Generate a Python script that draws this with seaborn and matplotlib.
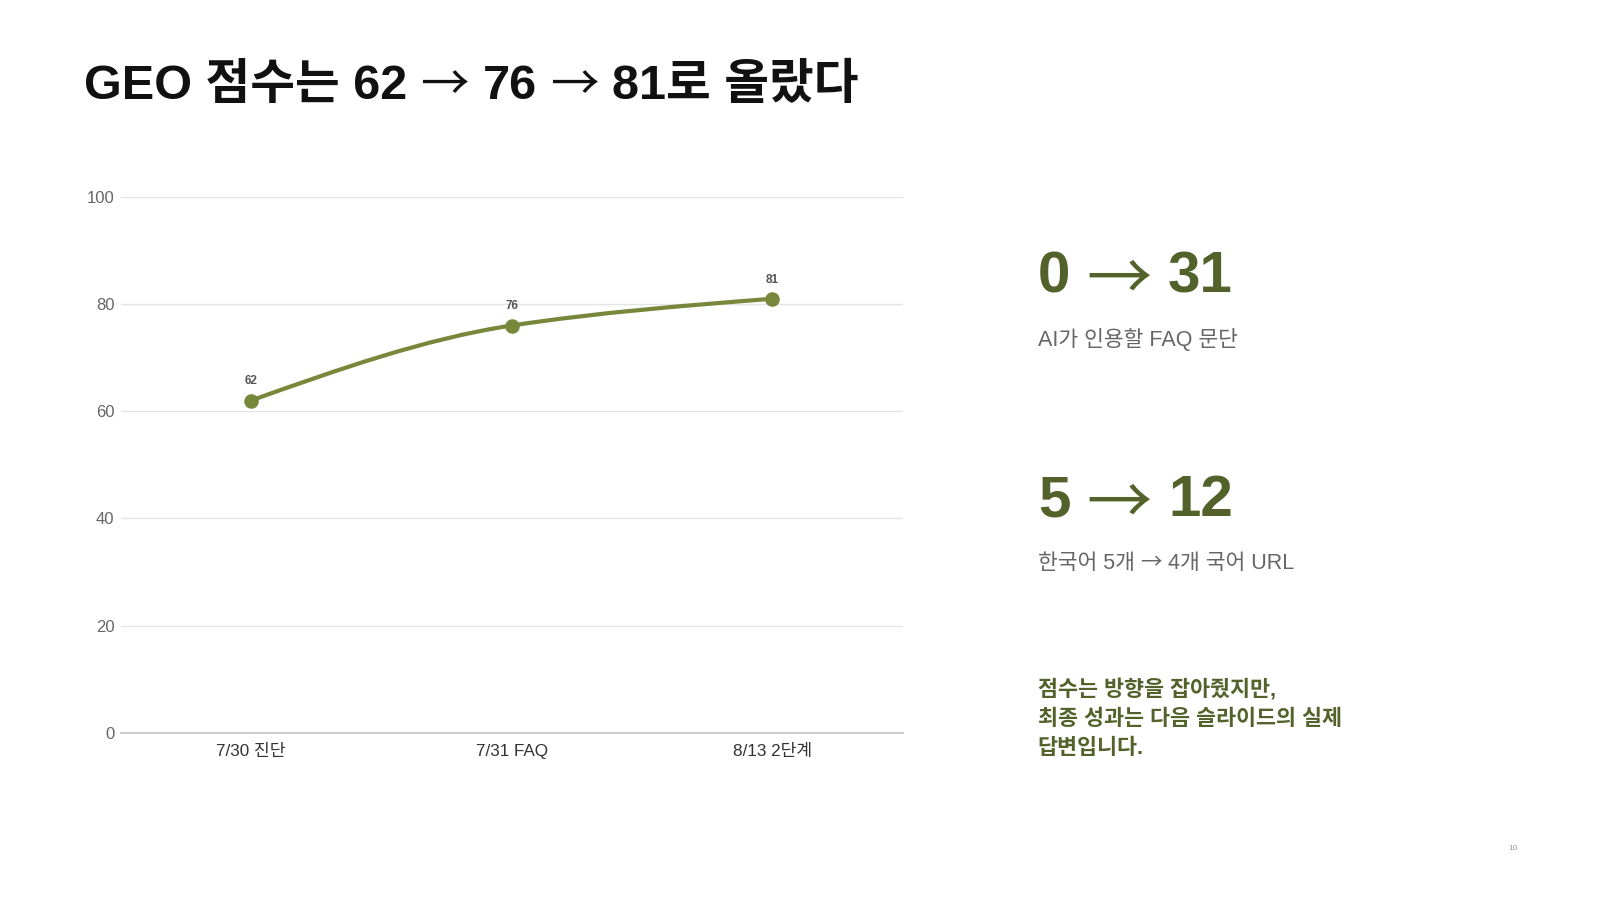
import numpy as np
import pandas as pd
import matplotlib
matplotlib.use("Agg")
import matplotlib.pyplot as plt
from matplotlib.path import Path
from matplotlib.patches import PathPatch
import seaborn as sns

# data
stages = ["7/30 진단", "7/31 FAQ", "8/13 2단계"]
scores = [62, 76, 81]
y_ticks = [0, 20, 40, 60, 80, 100]

title_parts = ["GEO 점수는 62", "→", "76", "→", "81로 올랐다"]
kpi_values = [["0", "→", "31"], ["5", "→", "12"]]
kpi_labels = [["AI가 인용할 FAQ 문단"], ["한국어 5개", "→", "4개 국어 URL"]]
note = "점수는 방향을 잡아줬지만,\n최종 성과는 다음 슬라이드의 실제\n답변입니다."
page_no = "10"

LINE = "#77883a"
DARK_OLIVE = "#52622a"
MAIN = ["Liberation Sans", "Noto Sans CJK KR", "DejaVu Sans"]
CJK = ["Noto Sans CJK KR", "DejaVu Sans"]

sns.set_theme(style="white")
plt.rcParams["font.family"] = MAIN

df = pd.DataFrame({"stage": stages, "score": scores})

W, H = 1568, 882  # reference layout frame
fig = plt.figure(figsize=(16, 9), dpi=100)
ax = fig.add_axes([118.25 / W, 1 - 718 / H, 766.5 / W, 525 / H])

# smooth monotone curve through the points
xs = np.arange(len(scores), dtype=float)
ys = np.array(scores, dtype=float)
d = np.diff(ys) / np.diff(xs)
m = np.empty_like(ys)
for i in range(1, len(ys) - 1):
    m[i] = 0 if d[i - 1] * d[i] <= 0 else 2 / (1 / d[i - 1] + 1 / d[i])
m[0] = (3 * d[0] - m[1]) / 2
m[-1] = (3 * d[-1] - m[-2]) / 2
verts = [(xs[0], ys[0])]
codes = [Path.MOVETO]
for i in range(len(xs) - 1):
    h = xs[i + 1] - xs[i]
    verts += [(xs[i] + h / 3, ys[i] + m[i] * h / 3),
              (xs[i + 1] - h / 3, ys[i + 1] - m[i + 1] * h / 3),
              (xs[i + 1], ys[i + 1])]
    codes += [Path.CURVE4] * 3
ax.add_patch(PathPatch(Path(verts, codes), fill=False, edgecolor=LINE,
                       lw=3.0, capstyle="round", zorder=3))

sns.scatterplot(data=df, x="stage", y="score", ax=ax, color=LINE, s=110,
                edgecolor=LINE, linewidth=0, zorder=4, legend=False)

for i, v in enumerate(scores):
    ax.annotate(str(v), (i, v), xytext=(0, 9.5), textcoords="offset points",
                ha="center", va="bottom", fontsize=8.5, fontweight="bold",
                color="#555555")

ax.set_xlim(-0.5, len(stages) - 0.5)
ax.set_ylim(0, 100)
ax.set_yticks(y_ticks)
ax.set_xlabel("")
ax.set_ylabel("")
ax.yaxis.grid(True, color="#e4e4e4", lw=1)
ax.xaxis.grid(False)
ax.set_axisbelow(True)
for s in ["top", "right", "left"]:
    ax.spines[s].set_visible(False)
ax.spines["bottom"].set_color("#cccccc")
ax.spines["bottom"].set_linewidth(1.5)
ax.tick_params(axis="y", length=0, pad=4.5, labelsize=12, labelcolor="#666666")
ax.tick_params(axis="x", length=0, pad=8, labelsize=12.3, labelcolor="#333333")

renderer = fig.canvas.get_renderer()


def text_width(s, **kw):
    t = fig.text(0, 0, s, **kw)
    w = t.get_window_extent(renderer=renderer).width
    t.remove()
    return w


def draw_runs(x, y, parts, size, weight, color, arrow_size=None, arrow_dy=0):
    # arrows come from the CJK font in a light weight, as on the slide
    kw = dict(fontsize=size, fontweight=weight)
    gap = text_width("x x", family=MAIN, **kw) - text_width("xx", family=MAIN, **kw)
    cur = x * fig.bbox.width
    for p in parts:
        if p == "→":
            t = fig.text(cur / fig.bbox.width, y - arrow_dy / fig.bbox.height, p,
                         family=CJK, color=color, fontsize=arrow_size or size,
                         fontweight="normal", ha="left", va="baseline")
        else:
            t = fig.text(cur / fig.bbox.width, y, p, family=MAIN, color=color,
                         ha="left", va="baseline", **kw)
        cur += t.get_window_extent(renderer=renderer).width + gap


draw_runs(82 / W, 1 - 97 / H, title_parts, 35, "bold", "#111111", arrow_dy=1)

kpi_base = [287, 506]
for val, lab, yb in zip(kpi_values, kpi_labels, kpi_base):
    draw_runs(1017 / W, 1 - yb / H, val, 42, "bold", DARK_OLIVE,
              arrow_size=47, arrow_dy=7)
    draw_runs(1017 / W, 1 - (yb + 52) / H, lab, 15.5, "normal", "#666666")

fig.text(1017 / W, 1 - 666 / H, note, fontsize=15.7, fontweight="bold",
         color=DARK_OLIVE, ha="left", va="top", linespacing=1.47)

fig.text(1483 / W, 1 - 832 / H, page_no, fontsize=6, color="#999999",
         ha="center", va="center")

fig.savefig("out.png", dpi=100, facecolor="white")
